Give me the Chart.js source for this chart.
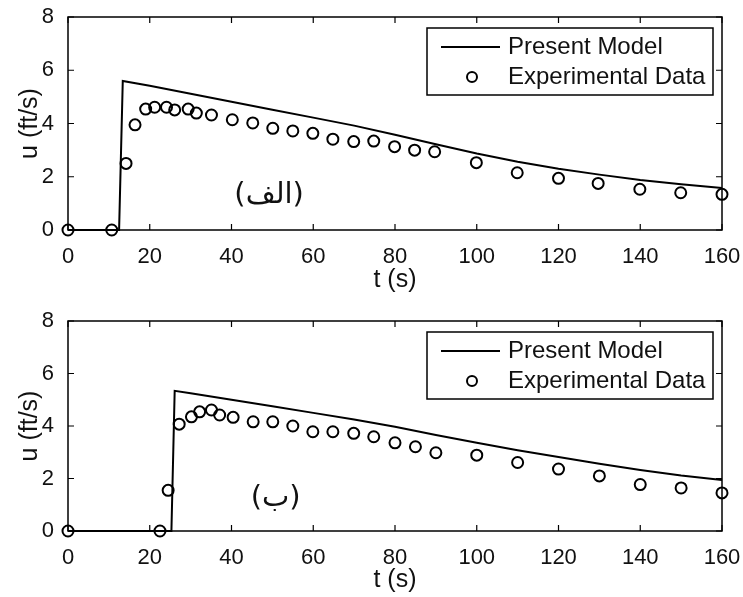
<!DOCTYPE html>
<html>
<head>
<meta charset="utf-8">
<script src="https://cdn.jsdelivr.net/npm/chart.js@4.4.1/dist/chart.umd.min.js"></script>
<style>
  html, body { margin: 0; padding: 0; background: #fff; }
  #wrap { position: relative; width: 743px; height: 597px; }
  canvas { position: absolute; left: 0; }
  #c1 { top: 0; }
  #c2 { top: 300px; }
</style>
</head>
<body>
<div id="wrap">
  <canvas id="c1" width="743" height="300"></canvas>
  <canvas id="c2" width="743" height="297"></canvas>
</div>
<script>
// Panel (الف): velocity history
const tModelA = [0, 12.5, 13.4, 20, 30, 40, 50, 60, 70, 80, 90, 100, 110, 120, 130, 140, 150, 160];
const uModelA = [0, 0, 5.6, 5.42, 5.12, 4.82, 4.52, 4.22, 3.92, 3.58, 3.22, 2.87, 2.56, 2.3, 2.08, 1.88, 1.72, 1.58];
const tExpA = [0, 10.7, 14.2, 16.4, 19.0, 21.2, 24.1, 26.1, 29.4, 31.4, 35.1, 40.2, 45.2, 50.1, 55, 59.9, 64.8, 69.9, 74.8, 79.9, 84.8, 89.7, 99.9, 109.9, 120, 129.7, 139.9, 149.9, 160];
const uExpA = [0, 0, 2.5, 3.95, 4.54, 4.61, 4.61, 4.51, 4.54, 4.39, 4.32, 4.14, 4.02, 3.82, 3.72, 3.63, 3.41, 3.32, 3.34, 3.13, 3.0, 2.94, 2.53, 2.15, 1.94, 1.75, 1.53, 1.40, 1.34];

// Panel (ب)
const tModelB = [0, 25.3, 26.1, 30, 40, 50, 60, 70, 80, 90, 100, 110, 120, 130, 140, 150, 160];
const uModelB = [0, 0, 5.34, 5.25, 5.0, 4.75, 4.5, 4.25, 3.97, 3.66, 3.36, 3.08, 2.82, 2.56, 2.32, 2.11, 1.94];
const tExpB = [0, 22.5, 24.5, 27.2, 30.2, 32.2, 35.1, 37.1, 40.4, 45.3, 50.1, 55, 59.9, 64.8, 69.9, 74.8, 80, 85, 90, 100, 110, 120, 130, 140, 150, 160];
const uExpB = [0, 0, 1.55, 4.07, 4.35, 4.54, 4.61, 4.42, 4.33, 4.16, 4.16, 4.0, 3.78, 3.78, 3.72, 3.59, 3.36, 3.21, 2.98, 2.89, 2.61, 2.36, 2.1, 1.77, 1.64, 1.45];

// Axis ticks and labels
const xTicks = [0, 20, 40, 60, 80, 100, 120, 140, 160];
const yTicks = [0, 2, 4, 6, 8];
const seriesNames = ['Present Model', 'Experimental Data'];
const xTitle = 't (s)';
const yTitle = 'u (ft/s)';
const panelLabels = ['(الف)', '(ب)'];
const panelLabelAt = [[49.2, 1.3], [50.8, 1.25]];

const FONT = '"Liberation Sans", Arial, Helvetica, sans-serif';
const INK = '#111';

function pts(ts, us) { return ts.map((t, i) => ({ x: t, y: us[i] })); }

// Box, inward ticks, legend and panel label
const framePlugin = {
  id: 'frame',
  afterDatasetsDraw(chart, args, opts) {
    const { ctx, chartArea: a, scales: { x, y } } = chart;
    ctx.save();
    ctx.strokeStyle = '#000';
    ctx.lineWidth = 1.5;
    ctx.strokeRect(a.left, a.top, a.right - a.left, a.bottom - a.top);
    const tl = 6;
    ctx.lineWidth = 1.2;
    ctx.beginPath();
    xTicks.forEach(v => {
      const px = x.getPixelForValue(v);
      ctx.moveTo(px, a.bottom); ctx.lineTo(px, a.bottom - tl);
      ctx.moveTo(px, a.top); ctx.lineTo(px, a.top + tl);
    });
    yTicks.forEach(v => {
      const py = y.getPixelForValue(v);
      ctx.moveTo(a.left, py); ctx.lineTo(a.left + tl, py);
      ctx.moveTo(a.right, py); ctx.lineTo(a.right - tl, py);
    });
    ctx.stroke();

    // legend box
    const bw = 286, bh = 67;
    const bx = a.right - 9 - bw, by = a.top + 11;
    ctx.fillStyle = '#fff';
    ctx.fillRect(bx, by, bw, bh);
    ctx.lineWidth = 1.5;
    ctx.strokeRect(bx, by, bw, bh);
    const r1 = by + 19, r2 = by + 49;
    ctx.lineWidth = 2;
    ctx.beginPath();
    ctx.moveTo(bx + 14, r1); ctx.lineTo(bx + 73, r1);
    ctx.stroke();
    ctx.beginPath();
    ctx.arc(bx + 45, r2, 5, 0, Math.PI * 2);
    ctx.stroke();
    ctx.fillStyle = INK;
    ctx.font = '24px ' + FONT;
    ctx.textAlign = 'left';
    ctx.textBaseline = 'middle';
    ctx.fillText(seriesNames[0], bx + 81, r1);
    ctx.fillText(seriesNames[1], bx + 81, r2);

    // panel label
    const [lt, lu] = opts.at;
    ctx.font = '29px "DejaVu Sans", sans-serif';
    ctx.textAlign = 'center';
    ctx.fillText(opts.label, x.getPixelForValue(lt), y.getPixelForValue(lu));
    ctx.restore();
  }
};

function makeChart(id, tm, um, te, ue, idx, titleBottomPad) {
  return new Chart(document.getElementById(id), {
    type: 'scatter',
    data: {
      datasets: [
        {
          label: seriesNames[0],
          data: pts(tm, um),
          showLine: true,
          borderColor: '#000',
          borderWidth: 2,
          pointRadius: 0,
          tension: 0,
          clip: false
        },
        {
          label: seriesNames[1],
          data: pts(te, ue),
          showLine: false,
          borderColor: '#000',
          backgroundColor: 'rgba(0,0,0,0)',
          pointRadius: 5.5,
          pointBorderWidth: 2,
          clip: false
        }
      ]
    },
    options: {
      responsive: false,
      animation: false,
      devicePixelRatio: 1,
      layout: { padding: { left: 0, right: 21, top: idx === 0 ? 17 : 21, bottom: 0 } },
      plugins: {
        legend: { display: false },
        tooltip: { enabled: false },
        frame: { label: panelLabels[idx], at: panelLabelAt[idx] }
      },
      scales: {
        x: {
          type: 'linear',
          min: 0, max: 160,
          afterFit(s) { s.height = idx === 0 ? 70 : 66; s.paddingLeft = 0; s.paddingRight = 0; },
          afterBuildTicks(s) { s.ticks = xTicks.map(v => ({ value: v })); },
          grid: { display: false },
          border: { display: false },
          ticks: { color: INK, font: { family: FONT, size: 22 }, padding: 6, maxRotation: 0 },
          title: { display: true, text: xTitle, color: INK, font: { family: FONT, size: 25 }, padding: { top: 0, bottom: titleBottomPad } }
        },
        y: {
          type: 'linear',
          min: 0, max: 8,
          afterFit(s) { s.width = 68; s.paddingTop = 0; s.paddingBottom = 0; },
          afterBuildTicks(s) { s.ticks = yTicks.map(v => ({ value: v })); },
          grid: { display: false },
          border: { display: false },
          ticks: { color: INK, font: { family: FONT, size: 22 }, padding: 6 },
          title: { display: true, text: yTitle, color: INK, font: { family: FONT, size: 25 }, padding: { top: 15, bottom: 0 } }
        }
      }
    },
    plugins: [framePlugin]
  });
}

makeChart('c1', tModelA, uModelA, tExpA, uExpA, 0, 5);
makeChart('c2', tModelB, uModelB, tExpB, uExpB, 1, 2);
</script>
</body>
</html>
